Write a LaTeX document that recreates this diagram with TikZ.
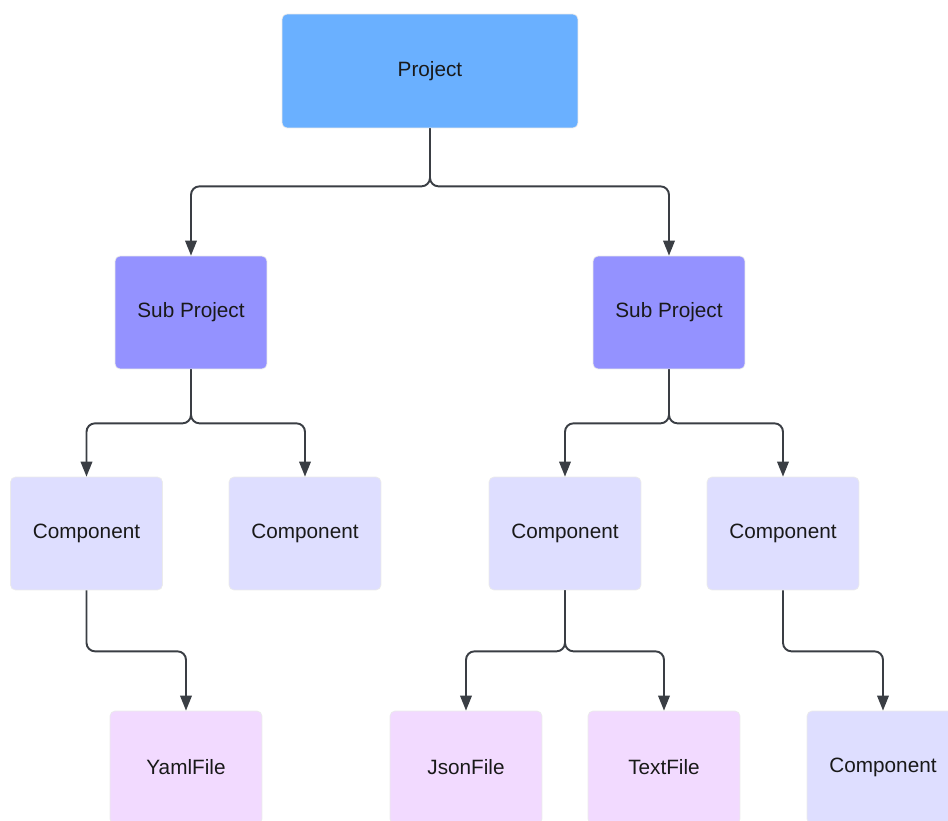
\documentclass[tikz,border=0pt]{standalone}
\usepackage{fontspec}
\setmainfont{Liberation Sans}
\usepackage{xcolor}
\usepackage{tikz}
\usetikzlibrary{arrows.meta,positioning,calc}
\definecolor{projBlue}{RGB}{106,176,255}
\definecolor{subPurple}{RGB}{148,146,255}
\definecolor{compLav}{RGB}{222,222,255}
\definecolor{filePink}{RGB}{242,218,255}
\definecolor{lineGray}{RGB}{58,62,68}

\begin{document}
\begin{tikzpicture}[
    x=0.02cm, y=-0.02cm,
    box/.style={rectangle, rounded corners=0.1cm, draw=black!8, line width=0.4pt,
        minimum width=3.04cm, minimum height=2.26cm, text=black!90,
        font=\fontsize{11.8}{14}\selectfont},
    arrow/.style={-{Triangle[length=0.3cm, width=0.23cm]}, line width=1.1pt,
        draw=lineGray, rounded corners=0.17cm}
]
    \clip (0,0) rectangle (948,821);

    % Project
    \node[box, fill=projBlue, minimum width=5.92cm, minimum height=2.28cm] (project) at (430,71) {Project};

    % Sub projects
    \node[box, fill=subPurple] (subL) at (191,312.5) {Sub Project};
    \node[box, fill=subPurple] (subR) at (669,312.5) {Sub Project};

    % Components
    \node[box, fill=compLav] (compA) at (86.5,533.5) {Component};
    \node[box, fill=compLav] (compB) at (305,533.5) {Component};
    \node[box, fill=compLav] (compC) at (565,533.5) {Component};
    \node[box, fill=compLav] (compD) at (783,533.5) {Component};

    % Files
    \node[box, fill=filePink] (yaml) at (186,767.5) {YamlFile};
    \node[box, fill=filePink] (json) at (466,767.5) {JsonFile};
    \node[box, fill=filePink] (text) at (664,767.5) {TextFile};
    \node[box, fill=compLav] (compE) at (883,767.5) {Component};

    % Arrows
    \draw[arrow] (project.south) -- ++(0,58) -| (subL.north);
    \draw[arrow] (project.south) -- ++(0,58) -| (subR.north);
    \draw[arrow] (subL.south) -- ++(0,54) -| (compA.north);
    \draw[arrow] (subL.south) -- ++(0,54) -| (compB.north);
    \draw[arrow] (subR.south) -- ++(0,54) -| (compC.north);
    \draw[arrow] (subR.south) -- ++(0,54) -| (compD.north);
    \draw[arrow] (compA.south) -- ++(0,61) -| (yaml.north);
    \draw[arrow] (compC.south) -- ++(0,61) -| (json.north);
    \draw[arrow] (compC.south) -- ++(0,61) -| (text.north);
    \draw[arrow] (compD.south) -- ++(0,61) -| (compE.north);
\end{tikzpicture}
\end{document}
